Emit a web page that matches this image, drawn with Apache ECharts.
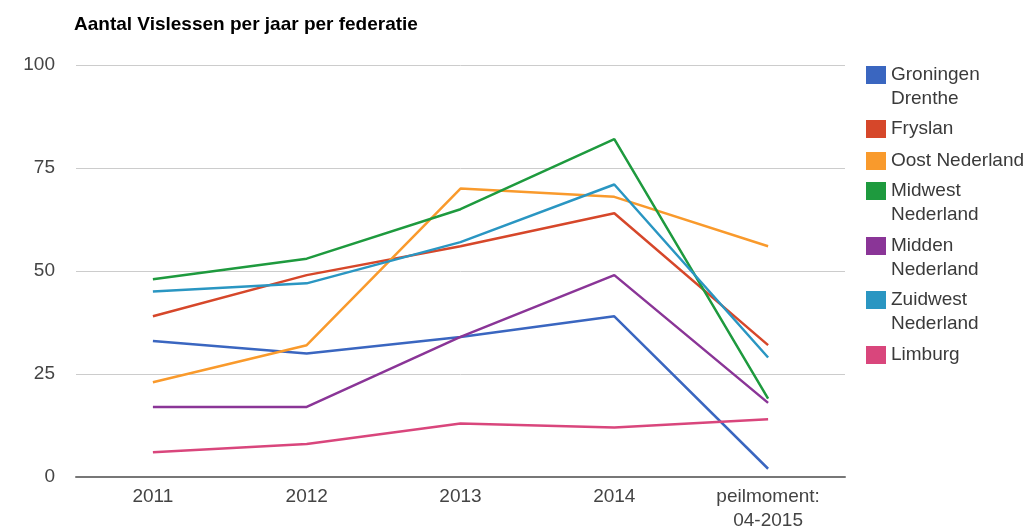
<!DOCTYPE html>
<html>
<head>
<meta charset="utf-8">
<script src="https://cdn.jsdelivr.net/npm/echarts@6/dist/echarts.min.js"></script>
<style>
  html, body { margin: 0; padding: 0; background: #fff; }
  #main { width: 1029px; height: 532px; }
</style>
</head>
<body>
<div id="main"></div>
<script>
// data
const categories = ['2011', '2012', '2013', '2014', 'peilmoment:\n04-2015'];
const groningenDrenthe = [33, 30, 34, 39, 2];
const fryslan = [39, 49, 56, 64, 32];
const oostNederland = [23, 32, 70, 68, 56];
const midwestNederland = [48, 53, 65, 82, 19];
const middenNederland = [17, 17, 34, 49, 18];
const zuidwestNederland = [45, 47, 57, 71, 29];
const limburg = [6, 8, 13, 12, 14];
const yTicks = [0, 25, 50, 75, 100];

const seriesList = [
  { name: 'Groningen Drenthe', label: 'Groningen\nDrenthe', data: groningenDrenthe, color: '#3a66c0' },
  { name: 'Fryslan', label: 'Fryslan', data: fryslan, color: '#d6472a' },
  { name: 'Oost Nederland', label: 'Oost Nederland', data: oostNederland, color: '#f99a2c' },
  { name: 'Midwest Nederland', label: 'Midwest\nNederland', data: midwestNederland, color: '#1e9a3e' },
  { name: 'Midden Nederland', label: 'Midden\nNederland', data: middenNederland, color: '#8a3597' },
  { name: 'Zuidwest Nederland', label: 'Zuidwest\nNederland', data: zuidwestNederland, color: '#2a96c2' },
  { name: 'Limburg', label: 'Limburg', data: limburg, color: '#d9467c' }
];

// centre of first legend line for each item (px)
const legendCenters = [75, 129, 161, 191, 246, 300, 355];
const LH = 24;
const FONT = 'Liberation Sans';

let myChart = echarts.init(document.getElementById('main'));

// one legend per item so two-line names keep the swatch on the first line
const legends = seriesList.map((s, i) => {
  const lines = s.label.split('\n');
  // pad with blank lines above so the swatch centres on the first line
  const txt = '\n'.repeat(lines.length - 1) + s.label;
  return {
    orient: 'vertical',
    left: 866,
    top: legendCenters[i] - (LH * (2 * lines.length - 1)) / 2,
    padding: 0,
    itemWidth: 20,
    itemHeight: 18,
    icon: 'rect',
    selectedMode: false,
    data: [s.name],
    formatter: () => txt,
    textStyle: { fontFamily: FONT, fontSize: 19, color: '#3a3a3a', lineHeight: LH }
  };
});

let option = {
  backgroundColor: '#fff',
  animation: false,
  title: {
    text: 'Aantal Vislessen per jaar per federatie',
    left: 74,
    top: 14,
    padding: 0,
    textStyle: { fontFamily: FONT, fontSize: 19, fontWeight: 'bold', color: '#000', lineHeight: 22 }
  },
  legend: legends,
  grid: {
    left: 76,
    right: 184,
    top: 65,
    bottom: 55,
    containLabel: false,
    outerBoundsMode: 'none'
  },
  xAxis: {
    type: 'category',
    boundaryGap: true,
    data: categories,
    axisLine: { show: true, lineStyle: { color: '#777', width: 2 } },
    axisTick: { show: false },
    splitLine: { show: false },
    axisLabel: {
      fontFamily: FONT,
      fontSize: 19,
      color: '#444',
      lineHeight: 24,
      margin: 8,
      interval: 0
    }
  },
  yAxis: {
    type: 'value',
    min: yTicks[0],
    max: yTicks[yTicks.length - 1],
    interval: yTicks[1] - yTicks[0],
    axisLine: { show: false },
    axisTick: { show: false },
    splitLine: { show: true, lineStyle: { color: '#cccccc', width: 1 } },
    axisLabel: {
      fontFamily: FONT,
      fontSize: 19,
      color: '#444',
      margin: 21
    }
  },
  series: seriesList.map(s => ({
    name: s.name,
    type: 'line',
    data: s.data,
    symbol: 'none',
    color: s.color,
    lineStyle: { width: 2.5, color: s.color },
    itemStyle: { color: s.color },
    z: 3
  }))
};

myChart.setOption(option);
</script>
</body>
</html>
